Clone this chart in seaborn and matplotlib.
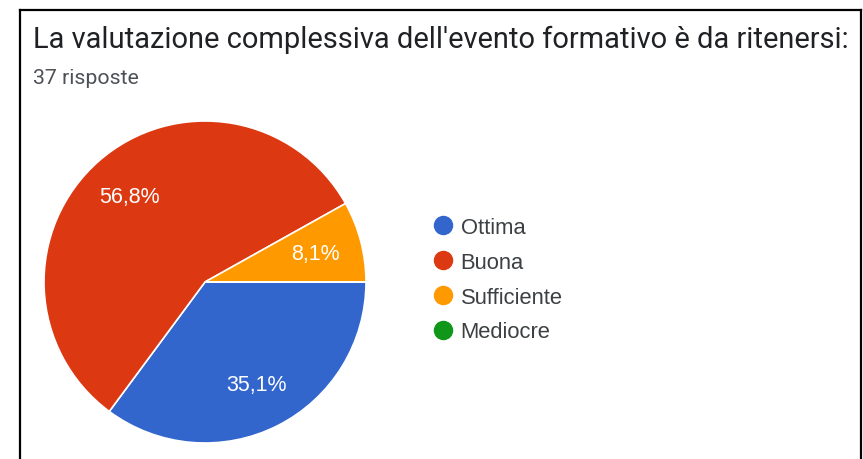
import matplotlib
matplotlib.use("Agg")
import matplotlib.pyplot as plt
from matplotlib.lines import Line2D
import seaborn as sns

# dati del grafico
categorie = ["Ottima", "Buona", "Sufficiente", "Mediocre"]
risposte = [13, 21, 3, 0]
colori = ["#3366CC", "#DC3912", "#FF9900", "#109618"]
titolo = "La valutazione complessiva dell'evento formativo è da ritenersi:"
sottotitolo = "37 risposte"

sns.set_theme(style="white", palette=sns.color_palette(colori))
plt.rcParams['font.family'] = ['Roboto', 'DejaVu Sans']

W, H = 863, 460
fig = plt.figure(figsize=(W / 100, H / 100), dpi=100)
fig.patch.set_facecolor("white")

# cornice nera (sinistra, alto, destra)
bordo = dict(color="black", lw=1.6, solid_capstyle="projecting")
fig.add_artist(Line2D([20 / W, 20 / W], [0, 1 - 11 / H], transform=fig.transFigure, **bordo))
fig.add_artist(Line2D([20 / W, 861 / W], [1 - 11 / H, 1 - 11 / H], transform=fig.transFigure, **bordo))
fig.add_artist(Line2D([861 / W, 861 / W], [0, 1 - 11 / H], transform=fig.transFigure, **bordo))

fig.text(33 / W, 1 - 48 / H, titolo, fontsize=20.9, color="#202124", ha="left", va="baseline")
fig.text(33 / W, 1 - 84 / H, sottotitolo, fontsize=15.3, color="#4d5156", ha="left", va="baseline")

# torta
cx, cy, r = 205, 283, 161
ax = fig.add_axes([(cx - r) / W, (H - cy - r) / H, 2 * r / W, 2 * r / H])


def etichetta(p):
    if p < 0.5:
        return ""
    return f"{p:.1f}".replace(".", ",") + "%"


wedges, testi, autotesti = ax.pie(
    risposte, colors=colori, startangle=0, counterclock=False,
    autopct=etichetta, pctdistance=0.71,
    wedgeprops=dict(edgecolor="white", linewidth=1.2),
    textprops=dict(color="white", fontsize=15.5, family=["Liberation Sans", "DejaVu Sans"]),
)
ax.set_xlim(-1, 1)
ax.set_ylim(-1, 1)
ax.set_aspect("equal")
ax.axis("off")

# legenda con cerchi
maniglie = [Line2D([0], [0], marker="o", linestyle="", markersize=13,
                   markerfacecolor=c, markeredgecolor=c) for c in colori]
leg = fig.legend(maniglie, categorie, loc="upper left",
                 bbox_to_anchor=(432 / W, 1 - 218 / H), frameon=False,
                 prop=dict(family=["Liberation Sans", "DejaVu Sans"], size=15.8),
                 handletextpad=0.3, labelspacing=0.63,
                 handlelength=1.0, borderpad=0, borderaxespad=0)
for t in leg.get_texts():
    t.set_color("#3c4043")

fig.savefig("out.png", dpi=100, facecolor="white")
